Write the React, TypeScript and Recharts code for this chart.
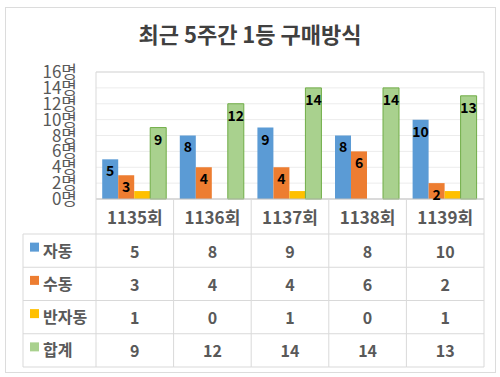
import { BarChart, Bar, XAxis, YAxis, CartesianGrid, LabelList } from "recharts";

const rounds = ["1135회", "1136회", "1137회", "1138회", "1139회"];
const autoCounts = [5, 8, 9, 8, 10];
const manualCounts = [3, 4, 4, 6, 2];
const semiAutoCounts = [1, 0, 1, 0, 1];
const totalCounts = [9, 12, 14, 14, 13];
const yTicks = [0, 2, 4, 6, 8, 10, 12, 14, 16];

const series = [
  { key: "auto", name: "자동", color: "#5b9bd5", stroke: "none", values: autoCounts, labels: true },
  { key: "manual", name: "수동", color: "#ed7d31", stroke: "none", values: manualCounts, labels: true },
  { key: "semi", name: "반자동", color: "#ffc000", stroke: "none", values: semiAutoCounts, labels: false },
  { key: "total", name: "합계", color: "#a9d18e", stroke: "#70ad47", values: totalCounts, labels: true },
];

const data = rounds.map((round, i) => {
  const row: Record<string, string | number> = { round };
  series.forEach((s) => (row[s.key] = s.values[i]));
  return row;
});

// layout
const W = 500;
const H = 377;
const TOP = 72;
const LEFT = 96;
const RIGHT = 16;
const PLOT_BOTTOM = 199;
const TABLE_LEFT = 23;
const TABLE_TOP = 234;
const ROW_H = 33.25;
const LINE = "#d9d9d9";
const TEXT = "#595959";
const FONT = '"Noto Sans CJK KR", "Noto Sans", sans-serif';

function TableTick(props: any) {
  const { x, y, payload, index } = props;
  const band = (W - LEFT - RIGHT) / rounds.length;
  const x0 = x - band / 2;
  const x1 = x + band / 2;
  const bottom = TABLE_TOP + ROW_H * series.length;
  const last = index === rounds.length - 1;

  return (
    <g fontFamily={FONT}>
      <text
        x={x}
        y={y + 17}
        textAnchor="middle"
        dominantBaseline="central"
        fontSize={17}
        fontWeight="bold"
        fill={TEXT}
      >
        {payload.value}
      </text>
      <line x1={x1} y1={last ? TOP : y} x2={x1} y2={bottom} stroke={LINE} />
      {index === 0 && (
        <>
          <line x1={x0} y1={TOP} x2={x0} y2={bottom} stroke={LINE} />
          <line x1={x0} y1={TOP} x2={x0 + band * rounds.length} y2={TOP} stroke={LINE} />
          <line x1={TABLE_LEFT} y1={TABLE_TOP} x2={TABLE_LEFT} y2={bottom} stroke={LINE} />
        </>
      )}
      {Array.from({ length: series.length + 1 }, (_, r) => (
        <line
          key={`h${r}`}
          x1={index === 0 ? TABLE_LEFT : x0}
          y1={TABLE_TOP + r * ROW_H}
          x2={x1}
          y2={TABLE_TOP + r * ROW_H}
          stroke={LINE}
        />
      ))}
      {series.map((s, r) => {
        const cy = TABLE_TOP + r * ROW_H + ROW_H / 2;
        return (
          <g key={s.key}>
            <text
              x={x}
              y={cy}
              textAnchor="middle"
              dominantBaseline="central"
              fontSize={16}
              fontWeight="bold"
              fill={TEXT}
            >
              {s.values[index]}
            </text>
            {index === 0 && (
              <>
                <rect x={30} y={cy - 8} width={9} height={9} fill={s.color} />
                <text
                  x={43}
                  y={cy - 1}
                  dominantBaseline="central"
                  fontSize={16}
                  fontWeight="bold"
                  fill={TEXT}
                >
                  {s.name}
                </text>
              </>
            )}
          </g>
        );
      })}
    </g>
  );
}

export default function App() {
  return (
    <div
      style={{
        position: "absolute",
        left: 0,
        top: 0,
        width: W,
        height: H,
        background: "#fff",
        fontFamily: FONT,
      }}
    >
      <div
        style={{
          position: "absolute",
          left: 5,
          top: 7,
          width: 491,
          height: 366,
          boxSizing: "border-box",
          border: "1px solid #dcdcdc",
        }}
      />
      <div
        style={{
          position: "absolute",
          left: 0,
          top: 19,
          width: W,
          textAlign: "center",
          fontSize: 22,
          lineHeight: "28px",
          fontWeight: "bold",
          color: "#404040",
        }}
      >
        최근 5주간 1등 구매방식
      </div>
      <div style={{ position: "absolute", left: 0, top: 0 }}>
        <BarChart
          width={W}
          height={H}
          data={data}
          margin={{ top: TOP, right: RIGHT, bottom: 0, left: 0 }}
          barCategoryGap="8%"
          barGap={0}
        >
          <CartesianGrid vertical={false} stroke="#ececec" />
          <YAxis
            width={LEFT}
            domain={[0, 16]}
            ticks={yTicks}
            interval={0}
            axisLine={false}
            tickLine={false}
            tickSize={0}
            tickMargin={19}
            tickFormatter={(v) => `${v}명`}
            tick={{ fontSize: 17, fill: TEXT, fontFamily: FONT }}
          />
          <XAxis
            dataKey="round"
            height={H - PLOT_BOTTOM}
            axisLine={{ stroke: "#bfbfbf" }}
            tickLine={false}
            tickSize={0}
            tickMargin={0}
            interval={0}
            tick={<TableTick />}
          />
          {series.map((s) => (
            <Bar
              key={s.key}
              dataKey={s.key}
              name={s.name}
              fill={s.color}
              stroke={s.stroke}
              isAnimationActive={false}
            >
              {s.labels && (
                <LabelList
                  dataKey={s.key}
                  position="insideTop"
                  offset={7}
                  fill="#000"
                  fontSize={14}
                  fontWeight="bold"
                  fontFamily={FONT}
                  isAnimationActive={false}
                />
              )}
            </Bar>
          ))}
        </BarChart>
      </div>
    </div>
  );
}
